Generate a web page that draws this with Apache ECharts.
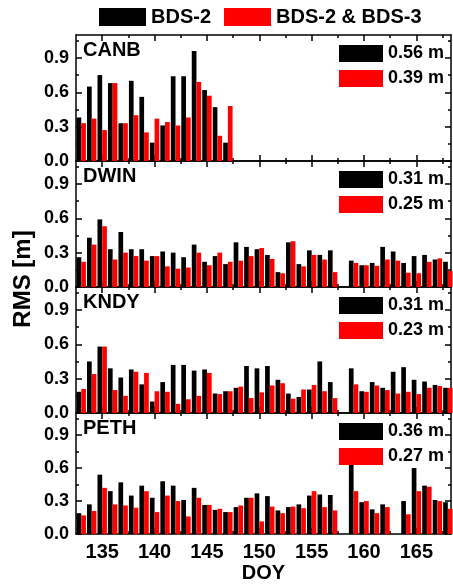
<!DOCTYPE html>
<html>
<head>
<meta charset="utf-8">
<script src="https://cdn.jsdelivr.net/npm/echarts@6/dist/echarts.min.js"></script>
<style>html,body{margin:0;padding:0;background:#fff}#c{width:453px;height:584px}</style>
</head>
<body>
<div id="c"></div>
<script>
const days = [133,134,135,136,137,138,139,140,141,142,143,144,145,146,147,148,149,150,151,152,153,154,155,156,157,158,159,160,161,162,163,164,165,166,167,168];
const stations = ['CANB','DWIN','KNDY','PETH'];
const seriesNames = ['BDS-2','BDS-2 & BDS-3'];
const meanBDS2 = ['0.56 m','0.31 m','0.31 m','0.36 m'];
const meanBoth = ['0.39 m','0.25 m','0.23 m','0.27 m'];
const xMajorTicks = [135,140,145,150,155,160,165];
const xMinorTicks = [137.5,142.5,147.5,152.5,157.5,162.5,167.5];
const yMajorTicks = [0,0.3,0.6,0.9];
const yMinorTicks = [0.15,0.45,0.75,1.05];

const canbBDS2 = [0.38,0.65,0.75,0.68,0.33,0.70,0.56,0.16,0.31,0.74,0.74,0.96,0.62,0.47,0.16];
const canbBoth = [0.33,0.37,0.27,0.68,0.33,0.40,0.25,0.37,0.34,0.31,0.38,0.69,0.57,0.22,0.48];
const dwinBDS2 = [0.26,0.43,0.59,0.33,0.48,0.33,0.33,0.27,0.31,0.30,0.26,0.37,0.22,0.27,0.20,0.39,0.35,0.33,0.28,0.13,0.39,0.20,0.32,0.28,0.32,null,0.23,0.19,0.21,0.35,0.31,0.21,0.27,0.28,0.24,0.22];
const dwinBoth = [0.22,0.37,0.53,0.24,0.30,0.27,0.23,0.27,0.18,0.16,0.17,0.30,0.19,0.30,0.22,0.23,0.27,0.34,0.245,0.12,0.40,0.18,0.28,0.24,0.13,null,0.21,0.19,0.185,0.24,0.23,0.125,0.12,0.22,0.25,0.14];
const kndyBDS2 = [0.185,0.45,0.58,0.39,0.31,0.38,0.25,0.10,0.27,0.42,0.42,0.37,0.38,0.17,0.19,0.22,0.41,0.39,0.41,0.29,0.17,0.14,0.205,0.45,0.27,null,0.39,0.19,0.27,0.22,0.36,0.40,0.29,0.275,0.245,0.22];
const kndyBoth = [0.21,0.34,0.58,0.20,0.15,0.36,0.35,0.19,0.185,0.08,0.12,0.15,0.35,0.165,0.19,0.23,0.13,0.18,0.24,0.26,0.125,0.205,0.245,0.19,0.13,null,0.25,0.185,0.24,0.20,0.17,0.185,0.165,0.22,0.235,0.22];
const pethBDS2 = [0.19,0.27,0.54,0.39,0.47,0.35,0.44,0.33,0.48,0.44,0.31,0.42,0.265,0.22,0.20,0.245,0.33,0.37,0.345,0.215,0.245,0.27,0.35,0.36,0.355,null,0.68,0.29,0.225,0.27,null,0.30,0.60,0.44,0.31,0.29];
const pethBoth = [0.17,0.21,0.42,0.27,0.26,0.24,0.39,0.20,0.35,0.30,0.16,0.33,0.265,0.23,0.20,0.26,0.33,0.115,0.25,0.19,0.25,0.235,0.39,0.245,0.215,null,0.39,0.30,0.19,0.245,null,0.18,0.39,0.43,0.30,0.23];

const bds2 = [canbBDS2, dwinBDS2, kndyBDS2, pethBDS2];
const both = [canbBoth, dwinBoth, kndyBoth, pethBoth];

const FONT = 'Liberation Sans, Arial, sans-serif';
const GL = 76, GW = 375, GH = 126;
const tops = [35, 161, 287, 413];
const XMIN = 132.5, XMAX = 168.3;

const grids = [], xAxes = [], yAxes = [], series = [], graphics = [];
const lineStyle = {color:'#000', width:1.5};

tops.forEach((t, i) => {
  grids.push({left: GL, top: t, width: GW, height: GH});
  const last = i === 3;
  const xBase = {gridIndex:i, type:'value', min:XMIN, max:XMAX, splitLine:{show:false}};
  xAxes.push(Object.assign({}, xBase, {
    position:'bottom',
    axisLine:{show:true, onZero:false, lineStyle},
    axisTick:{show:true, inside:true, length:6, customValues:xMajorTicks, lineStyle},
    axisLabel:{show:last, customValues:xMajorTicks, fontSize:20, fontWeight:'bold', fontFamily:FONT, color:'#000', margin:8},
    name: last ? 'DOY' : '', nameLocation:'middle', nameGap:27,
    nameTextStyle:{fontSize:20, fontWeight:'bold', fontFamily:FONT, color:'#000'}
  }));
  xAxes.push(Object.assign({}, xBase, {
    position:'bottom',
    axisLine:{show:false, onZero:false},
    axisTick:{show:true, inside:true, length:3, customValues:xMinorTicks, lineStyle},
    axisLabel:{show:false}
  }));
  xAxes.push(Object.assign({}, xBase, {
    position:'top',
    axisLine:{show:true, onZero:false, lineStyle},
    axisTick:{show:true, inside:true, length:6, customValues:xMajorTicks, lineStyle},
    axisLabel:{show:false}
  }));
  xAxes.push(Object.assign({}, xBase, {
    position:'top',
    axisLine:{show:false, onZero:false},
    axisTick:{show:true, inside:true, length:3, customValues:xMinorTicks, lineStyle},
    axisLabel:{show:false}
  }));
  const yBase = {gridIndex:i, type:'value', min:0, max:1.1, splitLine:{show:false}};
  yAxes.push(Object.assign({}, yBase, {
    position:'left',
    axisLine:{show:true, onZero:false, lineStyle},
    axisTick:{show:true, inside:true, length:6, customValues:yMajorTicks, lineStyle},
    axisLabel:{show:true, customValues:yMajorTicks, formatter:v => v.toFixed(1), fontSize:18, fontWeight:'bold', fontFamily:FONT, color:'#000', margin:7}
  }));
  yAxes.push(Object.assign({}, yBase, {
    position:'left',
    axisLine:{show:false, onZero:false},
    axisTick:{show:true, inside:true, length:3, customValues:yMinorTicks, lineStyle},
    axisLabel:{show:false}
  }));
  yAxes.push(Object.assign({}, yBase, {
    position:'right',
    axisLine:{show:true, onZero:false, lineStyle},
    axisTick:{show:true, inside:true, length:6, customValues:yMajorTicks, lineStyle},
    axisLabel:{show:false}
  }));
  yAxes.push(Object.assign({}, yBase, {
    position:'right',
    axisLine:{show:false, onZero:false},
    axisTick:{show:true, inside:true, length:3, customValues:yMinorTicks, lineStyle},
    axisLabel:{show:false}
  }));

  const mk = arr => arr.map((v, k) => [days[k], v]).filter(p => p[1] !== null);
  series.push({
    type:'bar', name:seriesNames[0], xAxisIndex:i*4, yAxisIndex:i*4,
    data: mk(bds2[i]), barWidth:4.7, barGap:'0%', itemStyle:{color:'#000'}, z:2
  });
  series.push({
    type:'bar', name:seriesNames[1], xAxisIndex:i*4, yAxisIndex:i*4,
    data: mk(both[i]), barWidth:4.7, barGap:'0%', itemStyle:{color:'#ff0000'}, z:2
  });

  graphics.push({type:'text', x:83, y:t+15, z:100, style:{text:stations[i], fontSize:20, fontWeight:'bold', fontFamily:FONT, fill:'#000', verticalAlign:'middle'}});
  graphics.push({type:'rect', z:100, shape:{x:339, y:t+10, width:44, height:17}, style:{fill:'#000'}});
  graphics.push({type:'rect', z:100, shape:{x:339, y:t+35, width:44, height:17}, style:{fill:'#ff0000'}});
  graphics.push({type:'text', x:388, y:t+18.5, z:100, style:{text:meanBDS2[i], fontSize:18, fontWeight:'bold', fontFamily:FONT, fill:'#000', verticalAlign:'middle'}});
  graphics.push({type:'text', x:388, y:t+43.5, z:100, style:{text:meanBoth[i], fontSize:18, fontWeight:'bold', fontFamily:FONT, fill:'#000', verticalAlign:'middle'}});
});

graphics.push({type:'text', x:23, y:279, rotation:Math.PI/2, z:100, style:{text:'RMS [m]', fontSize:24, fontWeight:'bold', fontFamily:FONT, fill:'#000', align:'center', verticalAlign:'middle'}});

const chart = echarts.init(document.getElementById('c'), null, {renderer:'canvas'});
chart.setOption({
  animation:false,
  backgroundColor:'#fff',
  legend:{
    data:seriesNames, left:94, top:2, icon:'rect', itemWidth:47, itemHeight:18, itemGap:13,
    textStyle:{fontSize:20, fontWeight:'bold', fontFamily:FONT, color:'#000'}
  },
  grid:grids, xAxis:xAxes, yAxis:yAxes, series:series, graphic:graphics
});
</script>
</body>
</html>
